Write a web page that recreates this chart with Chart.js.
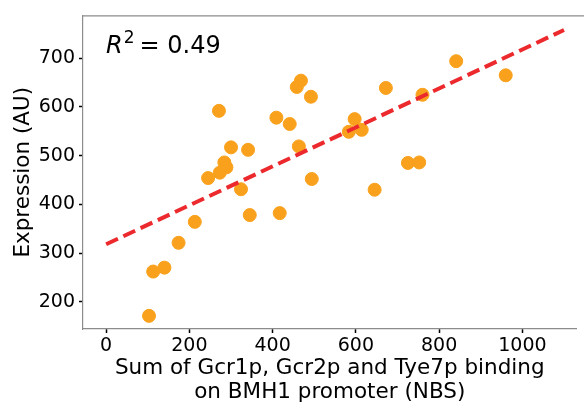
<!DOCTYPE html>
<html>
<head>
<meta charset="utf-8">
<script src="https://cdn.jsdelivr.net/npm/chart.js@4"></script>
<style>
  html, body { margin: 0; padding: 0; background: #fff; }
  canvas { display: block; }
</style>
</head>
<body>
<canvas id="scatter" width="584" height="406"></canvas>
<script>
// binding (NBS) vs expression (AU)
const binding = [103, 113, 140, 174, 213, 245, 271, 273, 284, 289, 300, 324, 341, 345, 409, 417,
                 441, 458, 468, 463, 492, 494, 583, 597, 614, 645, 672, 725, 752, 760, 841, 960];
const expression = [171, 262, 270, 321, 364, 454, 592, 465, 486, 476, 517, 431, 512, 378, 578, 382,
                    565, 641, 654, 519, 621, 452, 549, 575, 553, 430, 639, 485, 486, 625, 694, 665];

// linear fit
const fitX = [0, 1100];
const fitY = [318, 758];
const rSquared = '0.49';

const xTicks = [0, 200, 400, 600, 800, 1000];
const yTicks = [200, 300, 400, 500, 600, 700];

const FONT = 'DejaVu Sans';

const spines = {
  id: 'spines',
  afterDraw(chart) {
    const {ctx, chartArea: a} = chart;
    ctx.save();
    ctx.strokeStyle = '#8c8c8c';
    ctx.lineWidth = 1.2;
    ctx.beginPath();
    ctx.moveTo(a.left, a.top + 0.5);
    ctx.lineTo(chart.width, a.top + 0.5);
    ctx.stroke();
    ctx.restore();

    // R^2 annotation
    ctx.save();
    ctx.fillStyle = '#000';
    ctx.textBaseline = 'alphabetic';
    let x = 106, y = 53;
    ctx.font = 'italic 24px "' + FONT + '"';
    ctx.fillText('R', x, y);
    x += ctx.measureText('R').width + 1;
    ctx.font = '17px "' + FONT + '"';
    ctx.fillText('2', x, y - 10);
    x += ctx.measureText('2').width + 5;
    ctx.font = '24px "' + FONT + '"';
    ctx.fillText('= ' + rSquared, x, y);
    ctx.restore();
  }
};

new Chart(document.getElementById('scatter'), {
  type: 'scatter',
  data: {
    datasets: [
      {
        type: 'line',
        data: fitX.map((x, i) => ({x: x, y: fitY[i]})),
        borderColor: '#ec2a2d',
        borderWidth: 4,
        borderDash: [13, 6],
        pointRadius: 0,
        fill: false,
        order: 0
      },
      {
        data: binding.map((x, i) => ({x: x, y: expression[i]})),
        backgroundColor: '#f9a11c',
        borderColor: '#f9a11c',
        pointRadius: 6.5,
        pointHoverRadius: 6.5,
        order: 1
      }
    ]
  },
  options: {
    responsive: false,
    animation: false,
    devicePixelRatio: 1,
    layout: { padding: { top: 5, right: 0, left: 0, bottom: 0 } },
    plugins: { legend: { display: false }, tooltip: { enabled: false } },
    scales: {
      x: {
        type: 'linear',
        min: -55.6,
        max: 1130,
        afterBuildTicks: s => { s.ticks = xTicks.map(v => ({value: v})); },
        afterFit: s => { s.height = 77; },
        grid: { drawOnChartArea: false, tickLength: 4, tickColor: '#000', tickWidth: 1.5 },
        border: { color: '#8c8c8c', width: 1.2 },
        ticks: { color: '#000', padding: 2, font: { family: FONT, size: 19 }, maxRotation: 0,
                 callback: v => String(v) },
        title: {
          display: true,
          text: ['Sum of Gcr1p, Gcr2p and Tye7p binding', 'on BMH1 promoter (NBS)'],
          color: '#000',
          font: { family: FONT, size: 21.5, lineHeight: '23.6px' },
          padding: { top: 0, bottom: 1.8 }
        }
      },
      y: {
        type: 'linear',
        min: 144,
        max: 788,
        afterBuildTicks: s => { s.ticks = yTicks.map(v => ({value: v})); },
        afterFit: s => { s.width = 83; },
        grid: { drawOnChartArea: false, tickLength: 4, tickColor: '#000', tickWidth: 1.5 },
        border: { color: '#8c8c8c', width: 1.2 },
        ticks: { color: '#000', padding: 4, font: { family: FONT, size: 19 },
                 callback: v => String(v) },
        title: {
          display: true,
          text: 'Expression (AU)',
          color: '#000',
          font: { family: FONT, size: 21.5, lineHeight: '23.6px' },
          padding: { top: 12, bottom: 0 }
        }
      }
    }
  },
  plugins: [spines]
});
</script>
</body>
</html>
